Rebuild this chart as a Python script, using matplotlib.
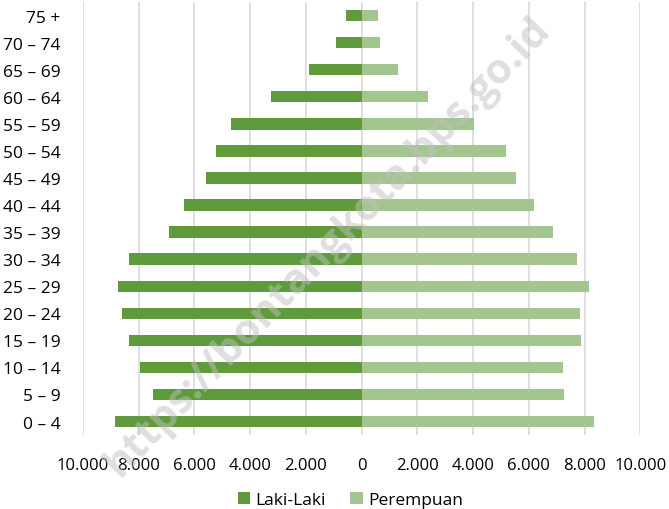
import matplotlib.pyplot as plt
import numpy as np

kelompok = ["0 – 4", "5 – 9", "10 – 14", "15 – 19", "20 – 24", "25 – 29", "30 – 34",
            "35 – 39", "40 – 44", "45 – 49", "50 – 54", "55 – 59", "60 – 64",
            "65 – 69", "70 – 74", "75 +"]
laki = [8860, 7500, 7940, 8360, 8590, 8760, 8330, 6920, 6390, 5570, 5240, 4700,
        3260, 1890, 930, 570]
perempuan = [8330, 7250, 7240, 7860, 7840, 8150, 7730, 6880, 6180, 5540, 5180, 4040,
             2400, 1310, 650, 590]
xticks = [-10000, -8000, -6000, -4000, -2000, 0, 2000, 4000, 6000, 8000, 10000]

plt.rcParams['font.family'] = ['Open Sans', 'DejaVu Sans']

fig = plt.figure(figsize=(6.69, 5.10), dpi=100)
ax = fig.add_axes([0.124, 0.145, 0.833, 0.849])

y = np.arange(len(kelompok))
ax.barh(y, [-v for v in laki], height=0.42, color='#5f9a3c', label='Laki-Laki', zorder=3)
ax.barh(y, perempuan, height=0.42, color='#a3c58f', label='Perempuan', zorder=3)

ax.set_xlim(-10000, 10000)
ax.set_ylim(-0.5, len(kelompok) - 0.5)
ax.set_yticks(y)
ax.set_yticklabels(kelompok, fontsize=12.5)
ax.set_xticks(xticks)
ax.set_xticklabels(["{:,}".format(abs(v)).replace(",", ".") for v in xticks], fontsize=12)
ax.tick_params(axis='x', length=0, pad=16)
ax.tick_params(axis='y', length=0, pad=16)
ax.grid(axis='x', color='#d9d9d9', linewidth=1.2, zorder=0)
for s in ax.spines.values():
    s.set_visible(False)

ax.legend(loc='upper center', bbox_to_anchor=(0.48, -0.095), ncol=2, frameon=False,
          fontsize=12.5, handlelength=0.7, handleheight=0.7, handletextpad=0.3,
          columnspacing=1.4)

# watermark
fig.text(0.49, 0.515, "https://bontangkota.bps.go.id", fontsize=30, fontweight='bold',
         color='#c0c0c0', alpha=0.5, rotation=46, ha='center', va='center', zorder=10)

fig.savefig("out.png", dpi=100)
